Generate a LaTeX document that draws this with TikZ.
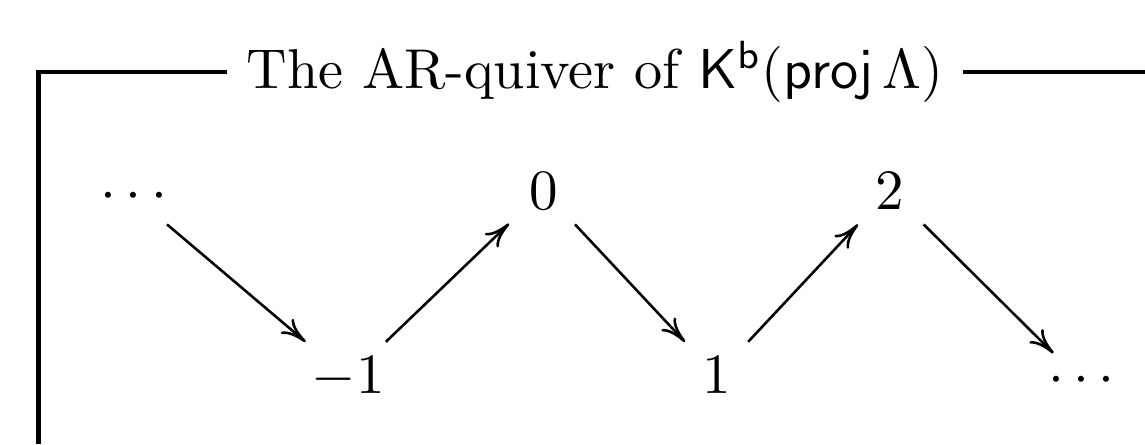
\documentclass[tikz,border=0pt]{standalone}
\usepackage{amsmath,amssymb}
\usetikzlibrary{matrix,arrows.meta,positioning}
\tikzset{
  ar/quiver/.style={
    matrix of math nodes,
    column sep=18.7pt,
    row sep=21pt,
    nodes={anchor=base, inner ysep=2.5pt}
  },
  ar/map/.style={line width=0.45pt, -{Computer Modern Rightarrow[length=4.4pt,width=3.4pt]}},
  ar/frame/.style={line width=0.75pt}
}
\begin{document}
\begin{tikzpicture}

\useasboundingbox (0,0) rectangle (200.88pt,-77.9pt);

% --- frame with title
\coordinate (tl) at (6.75pt,-12.63pt);
\coordinate (bl) at (6.75pt,-77.9pt);
\coordinate (tr) at (200.88pt,-12.63pt);
\node (title) [anchor=base, inner xsep=3.3pt, scale=0.985] at (104.4pt,-15.61pt)
  {The AR-quiver of $\mathsf{K}^{\mathsf{b}}(\mathsf{proj}\,\Lambda)$};
\draw[ar/frame] (title.west |- tl) -- (tl) -- (bl);
\draw[ar/frame] (title.east |- tl) -- (tr);

% --- quiver
\matrix (quiver) [ar/quiver, matrix anchor=quiver-1-1.base] at (23.5pt,-36.67pt) {
  \cdots & & 0 & & 2 & \\
  & -1 & & 1 & & \cdots \\
};

\draw[ar/map] (quiver-1-1) -- (quiver-2-2);
\draw[ar/map] (quiver-2-2) -- (quiver-1-3);
\draw[ar/map] (quiver-1-3) -- (quiver-2-4);
\draw[ar/map] (quiver-2-4) -- (quiver-1-5);
\draw[ar/map] (quiver-1-5) -- (quiver-2-6);

\end{tikzpicture}
\end{document}
